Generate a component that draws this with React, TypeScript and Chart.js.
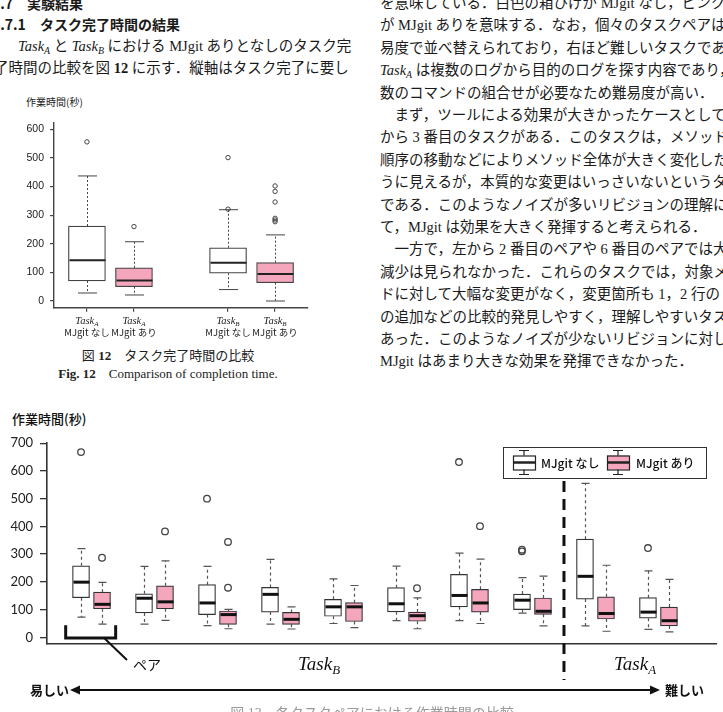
import React, { useEffect, useRef } from "react";
import { Chart, registerables } from "chart.js";
Chart.register(...registerables);

const SERIF = '"Liberation Serif", "DejaVu Serif", "Noto Sans CJK JP", serif';
const GOTHIC = '"Noto Sans CJK JP", "Noto Sans", sans-serif';
const PINK = "rgb(244,167,188)";
const WHITE = "#ffffff";

// ---------- Fig. 12 : overall comparison ----------
const fig12Tasks = ["A", "A", "B", "B"];
const fig12Tools = ["MJgit なし", "MJgit あり", "MJgit なし", "MJgit あり"];
const fig12Slots = [0, 1, 3, 4];
const fig12Min = [28, 21, 40, 0];
const fig12Q1 = [70, 50, 97, 64];
const fig12Median = [142, 72, 134, 94];
const fig12Q3 = [262, 116, 186, 134];
const fig12Max = [437, 207, 319, 231];
const fig12Outliers = [[556], [260], [501, 321], [402, 383, 346, 289, 283, 277]];
const fig12YTicks = [0, 100, 200, 300, 400, 500, 600];

// ---------- Fig. 13 : per task pair ----------
const fig13Tools = [
  "MJgit なし", "MJgit あり", "MJgit なし", "MJgit あり", "MJgit なし", "MJgit あり",
  "MJgit なし", "MJgit あり", "MJgit なし", "MJgit あり", "MJgit なし", "MJgit あり",
  "MJgit なし", "MJgit あり", "MJgit なし", "MJgit あり", "MJgit なし", "MJgit あり",
  "MJgit なし", "MJgit あり",
];
const fig13Slots = [0, 1, 3, 4, 6, 7, 9, 10, 12, 13, 15, 16, 18, 19, 21, 22, 24, 25, 27, 28];
const fig13Min = [73, 48, 48, 61, 42, 31, 48, 30, 50, 35, 60, 31, 60, 50, 87, 41, 41, 22, 29, 20];
const fig13Q1 = [143, 103, 88, 103, 82, 47, 91, 47, 76, 57, 92, 58, 110, 91, 100, 83, 138, 66, 69, 41];
const fig13Median = [199, 119, 141, 128, 124, 82, 155, 65, 110, 110, 121, 78, 151, 124, 134, 94, 220, 86, 91, 60];
const fig13Q3 = [258, 163, 157, 186, 190, 95, 180, 90, 137, 125, 179, 91, 227, 173, 156, 142, 354, 146, 143, 109];
const fig13Max = [320, 198, 256, 276, 256, 101, 281, 110, 211, 187, 257, 142, 304, 282, 215, 221, 555, 260, 240, 209];
const fig13Outliers = [
  [668], [287], [], [382], [500], [344, 179], [], [], [], [],
  [], [177], [632], [401], [316, 310], [], [], [], [322], [],
];
const fig13YTicks = [0, 100, 200, 300, 400, 500, 600, 700];
const fig13Separator = 23; // empty slot between TaskB and TaskA
const legendItems = ["MJgit なし", "MJgit あり"];

const colorOf = (tool: string) => (tool.indexOf("あり") >= 0 ? PINK : WHITE);

type BoxSpec = {
  slots: number[]; min: number[]; q1: number[]; med: number[]; q3: number[]; max: number[];
  capW: number; dash: number[]; wColor: string; wWidth: number; mWidth: number; mColor: string; boxW: number;
};

function boxPlugin(id: string, s: BoxSpec) {
  return {
    id,
    beforeDatasetsDraw(chart: any) {
      const { ctx } = chart;
      const x = chart.scales.x, y = chart.scales.y;
      ctx.save();
      ctx.strokeStyle = s.wColor;
      ctx.lineWidth = s.wWidth;
      s.slots.forEach((slot, i) => {
        const cx = Math.round(x.getPixelForValue(slot)) + 0.5;
        const yMax = y.getPixelForValue(s.max[i]);
        const yQ3 = y.getPixelForValue(s.q3[i]);
        const yMin = y.getPixelForValue(s.min[i]);
        const yQ1 = y.getPixelForValue(s.q1[i]);
        ctx.setLineDash(s.dash);
        ctx.beginPath();
        ctx.moveTo(cx, yQ3); ctx.lineTo(cx, yMax);
        ctx.moveTo(cx, yQ1); ctx.lineTo(cx, yMin);
        ctx.stroke();
        ctx.setLineDash([]);
        ctx.beginPath();
        ctx.moveTo(cx - s.capW / 2, yMax); ctx.lineTo(cx + s.capW / 2, yMax);
        ctx.moveTo(cx - s.capW / 2, yMin); ctx.lineTo(cx + s.capW / 2, yMin);
        ctx.stroke();
      });
      ctx.restore();
    },
    afterDatasetsDraw(chart: any) {
      const { ctx } = chart;
      const x = chart.scales.x, y = chart.scales.y;
      ctx.save();
      ctx.strokeStyle = s.mColor;
      ctx.lineWidth = s.mWidth;
      s.slots.forEach((slot, i) => {
        const cx = Math.round(x.getPixelForValue(slot)) + 0.5;
        const ym = y.getPixelForValue(s.med[i]);
        ctx.beginPath();
        ctx.moveTo(cx - s.boxW / 2, ym);
        ctx.lineTo(cx + s.boxW / 2, ym);
        ctx.stroke();
      });
      ctx.restore();
    },
  };
}

function outlierPoints(slots: number[], outs: number[][]) {
  const pts: { x: number; y: number }[] = [];
  slots.forEach((s, i) => outs[i].forEach((v) => pts.push({ x: s, y: v })));
  return pts;
}

// ---------- Fig. 12 chart ----------
const F12_TOP = 95;
const F12_H = 250;

function Fig12() {
  const ref = useRef<HTMLCanvasElement>(null);
  useEffect(() => {
    const labelPlugin = {
      id: "f12labels",
      afterDraw(chart: any) {
        const { ctx } = chart;
        const x = chart.scales.x;
        ctx.save();
        ctx.fillStyle = "#222";
        ctx.textBaseline = "middle";
        fig12Slots.forEach((slot, i) => {
          const cx = x.getPixelForValue(slot);
          ctx.font = `italic 10.5px ${SERIF}`;
          const w1 = ctx.measureText("Task").width;
          ctx.font = `italic 7px ${SERIF}`;
          const w2 = ctx.measureText(fig12Tasks[i]).width;
          const x0 = cx - (w1 + w2) / 2;
          ctx.textAlign = "left";
          ctx.font = `italic 10.5px ${SERIF}`;
          ctx.fillText("Task", x0, 226);
          ctx.font = `italic 7px ${SERIF}`;
          ctx.fillText(fig12Tasks[i], x0 + w1, 229);
          ctx.font = `9.5px ${GOTHIC}`;
          ctx.textAlign = "center";
          ctx.fillText(fig12Tools[i], cx, 237.5);
        });
        ctx.restore();
      },
    };
    const chart = new Chart(ref.current!, {
      type: "bar",
      data: {
        datasets: [
          {
            type: "bar",
            data: fig12Slots.map((s, i) => ({ x: s, y: [fig12Q1[i], fig12Q3[i]] })) as any,
            backgroundColor: fig12Tools.map(colorOf),
            borderColor: "#444",
            borderWidth: 1.2,
            borderSkipped: false,
            barThickness: 37,
            order: 2,
          } as any,
          {
            type: "scatter",
            data: outlierPoints(fig12Slots, fig12Outliers),
            pointRadius: 2.2,
            pointBackgroundColor: "rgba(0,0,0,0)",
            pointBorderColor: "#444",
            pointBorderWidth: 1,
            order: 1,
          } as any,
        ],
      },
      options: {
        animation: false,
        responsive: false,
        layout: { padding: { top: 28, right: 52, left: 0, bottom: 0 } },
        plugins: { legend: { display: false }, tooltip: { enabled: false } },
        scales: {
          x: {
            type: "linear",
            min: -0.7,
            max: 4.7,
            offset: false,
            afterBuildTicks: (s: any) => { s.ticks = fig12Slots.map((v) => ({ value: v })); },
            afterFit: (s: any) => { s.height = F12_H - 212.7; },
            ticks: { display: false },
            grid: { display: true, offset: false, drawOnChartArea: false, drawTicks: true, tickLength: 4, color: "#444", lineWidth: 1.2 },
            border: { display: true, color: "#444", width: 1.4 },
          },
          y: {
            type: "linear",
            min: -23.4,
            max: 622,
            afterBuildTicks: (s: any) => { s.ticks = fig12YTicks.map((v) => ({ value: v })); },
            afterFit: (s: any) => { s.width = 54; },
            ticks: { padding: 6, color: "#222", font: { family: '"Liberation Sans", Arial, sans-serif', size: 10.5 } },
            grid: { display: true, drawOnChartArea: false, drawTicks: true, tickLength: 4, color: "#444", lineWidth: 1.2 },
            border: { display: true, color: "#444", width: 1.4 },
          },
        },
      } as any,
      plugins: [
        boxPlugin("f12box", {
          slots: fig12Slots, min: fig12Min, q1: fig12Q1, med: fig12Median, q3: fig12Q3, max: fig12Max,
          capW: 19, dash: [2, 2], wColor: "#444", wWidth: 1, mWidth: 2, mColor: "#222", boxW: 36,
        }),
        labelPlugin,
      ],
    });
    return () => chart.destroy();
  }, []);
  return (
    <canvas
      ref={ref}
      width={360}
      height={F12_H}
      style={{ position: "absolute", left: 0, top: F12_TOP, width: 360, height: F12_H }}
    />
  );
}

// ---------- Fig. 13 chart ----------
const F13_TOP = 400;
const F13_H = 312;

function Fig13() {
  const ref = useRef<HTMLCanvasElement>(null);
  useEffect(() => {
    const annot = {
      id: "f13annot",
      afterDraw(chart: any) {
        const { ctx } = chart;
        const x = chart.scales.x, y = chart.scales.y;
        const T = F13_TOP;
        ctx.save();
        // separator between TaskB and TaskA
        const sx = x.getPixelForValue(fig13Separator);
        ctx.strokeStyle = "#111";
        ctx.lineWidth = 3;
        ctx.setLineDash([11, 7]);
        ctx.beginPath();
        ctx.moveTo(sx, 481 - T);
        ctx.lineTo(sx, 680 - T);
        ctx.stroke();
        ctx.setLineDash([]);
        // pair bracket
        const bx1 = x.getPixelForValue(-0.73), bx2 = x.getPixelForValue(1.65);
        const byT = y.getPixelForValue(44), byB = y.getPixelForValue(-2.5);
        ctx.lineWidth = 3;
        ctx.lineJoin = "miter";
        ctx.beginPath();
        ctx.moveTo(bx1, byT); ctx.lineTo(bx1, byB); ctx.lineTo(bx2, byB); ctx.lineTo(bx2, byT);
        ctx.stroke();
        // leader
        ctx.lineWidth = 2;
        ctx.beginPath();
        ctx.moveTo(x.getPixelForValue(1.1), byB);
        ctx.lineTo(127, 660 - T);
        ctx.stroke();
        // difficulty arrow
        const ay = 690 - T, ax1 = 70, ax2 = 660;
        ctx.lineWidth = 2;
        ctx.beginPath();
        ctx.moveTo(ax1 + 6, ay); ctx.lineTo(ax2 - 6, ay);
        ctx.stroke();
        ctx.fillStyle = "#111";
        ctx.beginPath();
        ctx.moveTo(ax1, ay); ctx.lineTo(ax1 + 10, ay - 4.5); ctx.lineTo(ax1 + 10, ay + 4.5); ctx.closePath();
        ctx.moveTo(ax2, ay); ctx.lineTo(ax2 - 10, ay - 4.5); ctx.lineTo(ax2 - 10, ay + 4.5); ctx.closePath();
        ctx.fill();
        // legend
        const lx = 503, ly = 447 - T, lw = 203, lh = 31;
        ctx.lineWidth = 1;
        ctx.strokeStyle = "#333";
        ctx.strokeRect(lx + 0.5, ly + 0.5, lw, lh);
        const iconX = [513, 607];
        const textX = [541, 636];
        legendItems.forEach((lab, i) => {
          const ix = iconX[i], cy = ly + lh / 2;
          ctx.strokeStyle = "#222";
          ctx.lineWidth = 1.2;
          ctx.beginPath();
          ctx.moveTo(ix + 11, cy - 12); ctx.lineTo(ix + 11, cy + 12);
          ctx.moveTo(ix + 6, cy - 12); ctx.lineTo(ix + 16, cy - 12);
          ctx.moveTo(ix + 6, cy + 12); ctx.lineTo(ix + 16, cy + 12);
          ctx.stroke();
          ctx.fillStyle = colorOf(lab);
          ctx.fillRect(ix, cy - 7, 22, 14);
          ctx.strokeRect(ix + 0.5, cy - 7 + 0.5, 22, 14);
          ctx.lineWidth = 2.5;
          ctx.beginPath();
          ctx.moveTo(ix, cy); ctx.lineTo(ix + 22, cy);
          ctx.stroke();
          ctx.fillStyle = "#111";
          ctx.font = `500 12px ${GOTHIC}`;
          ctx.textAlign = "left";
          ctx.textBaseline = "middle";
          ctx.fillText(lab, textX[i], cy + 0.5);
        });
        ctx.restore();
      },
    };
    const chart = new Chart(ref.current!, {
      type: "bar",
      data: {
        datasets: [
          {
            type: "bar",
            data: fig13Slots.map((s, i) => ({ x: s, y: [fig13Q1[i], fig13Q3[i]] })) as any,
            backgroundColor: fig13Tools.map(colorOf),
            borderColor: "#333",
            borderWidth: 1.2,
            borderSkipped: false,
            barThickness: 17,
            order: 2,
          } as any,
          {
            type: "scatter",
            data: outlierPoints(fig13Slots, fig13Outliers),
            pointRadius: 3.3,
            pointBackgroundColor: "rgba(0,0,0,0)",
            pointBorderColor: "#444",
            pointBorderWidth: 1.3,
            order: 1,
          } as any,
        ],
      },
      options: {
        animation: false,
        responsive: false,
        layout: { padding: { top: 43.2, right: 7, left: 0, bottom: 0 } },
        plugins: { legend: { display: false }, tooltip: { enabled: false } },
        scales: {
          x: {
            type: "linear",
            min: -1.62,
            max: 30.24,
            offset: false,
            afterFit: (s: any) => { s.height = 68; },
            ticks: { display: false },
            grid: { display: false, offset: false },
            border: { display: true, color: "#333", width: 1.6 },
          },
          y: {
            type: "linear",
            min: -24,
            max: 700,
            afterBuildTicks: (s: any) => { s.ticks = fig13YTicks.map((v) => ({ value: v })); },
            afterFit: (s: any) => { s.width = 47; },
            ticks: { padding: 7, color: "#222", font: { family: 'Lato, "Open Sans", sans-serif', size: 13 } },
            grid: { display: true, drawOnChartArea: false, drawTicks: true, tickLength: 7, color: "#333", lineWidth: 1.3 },
            border: { display: true, color: "#333", width: 1.6 },
          },
        },
      } as any,
      plugins: [
        boxPlugin("f13box", {
          slots: fig13Slots, min: fig13Min, q1: fig13Q1, med: fig13Median, q3: fig13Q3, max: fig13Max,
          capW: 8, dash: [3, 3], wColor: "#555", wWidth: 1.2, mWidth: 3, mColor: "#111", boxW: 16,
        }),
        annot,
      ],
    });
    return () => chart.destroy();
  }, []);
  return (
    <canvas
      ref={ref}
      width={723}
      height={F13_H}
      style={{ position: "absolute", left: 0, top: F13_TOP, width: 723, height: F13_H }}
    />
  );
}

// ---------- text helpers ----------
const Task = ({ s }: { s: string }) => (
  <span style={{ fontFamily: SERIF, fontStyle: "italic" }}>
    Task<span style={{ fontSize: "0.68em", position: "relative", top: "0.3em" }}>{s}</span>
  </span>
);

const Line = ({ x, y, children, size = 14.5, style = {} }: any) => (
  <div
    style={{
      position: "absolute", left: x, top: y - 11, height: 22, lineHeight: "22px",
      fontSize: size, whiteSpace: "nowrap", color: "#1a1a1a", fontFamily: SERIF, ...style,
    }}
  >
    {children}
  </div>
);

const rightText: any[] = [
  <>を意味している．白色の箱ひげが MJgit なし，ピンク</>,
  <>が MJgit ありを意味する．なお，個々のタスクペアは</>,
  <>易度で並べ替えられており，右ほど難しいタスクである</>,
  <><Task s="A" /> は複数のログから目的のログを探す内容であり，</>,
  <>数のコマンドの組合せが必要なため難易度が高い．</>,
  <>　まず，ツールによる効果が大きかったケースとして，</>,
  <>から 3 番目のタスクがある．このタスクは，メソッド宣</>,
  <>順序の移動などによりメソッド全体が大きく変化した</>,
  <>うに見えるが，本質的な変更はいっさいないというタス</>,
  <>である．このようなノイズが多いリビジョンの理解に対</>,
  <>て，MJgit は効果を大きく発揮すると考えられる．</>,
  <>　一方で，左から 2 番目のペアや 6 番目のペアでは大き</>,
  <>減少は見られなかった．これらのタスクでは，対象メソ</>,
  <>ドに対して大幅な変更がなく，変更箇所も 1，2 行の if</>,
  <>の追加などの比較的発見しやすく，理解しやすいタスク</>,
  <>あった．このようなノイズが少ないリビジョンに対して</>,
  <>MJgit はあまり大きな効果を発揮できなかった．</>,
];

export default function App() {
  return (
    <div
      style={{
        position: "absolute", left: 0, top: 0, width: 723, height: 712,
        overflow: "hidden", background: "#fff",
      }}
    >
      {/* left column */}
      <Line x={-8} y={3} size={14} style={{ fontFamily: GOTHIC, fontWeight: 700 }}>6.7　実験結果</Line>
      <Line x={-8} y={24} size={14} style={{ fontFamily: GOTHIC, fontWeight: 700 }}>6.7.1　タスク完了時間の結果</Line>
      <Line x={18} y={46}><Task s="A" /> と <Task s="B" /> における MJgit ありとなしのタスク完</Line>
      <Line x={-6} y={68}>了時間の比較を図 <b>12</b> に示す．縦軸はタスク完了に要し</Line>

      {/* right column */}
      {rightText.map((t, i) => (
        <Line key={i} x={380} y={3 + 22.4 * i}>{t}</Line>
      ))}

      {/* Fig 12 */}
      <div style={{ position: "absolute", left: 26, top: 95, fontSize: 10, lineHeight: "14px", fontFamily: GOTHIC, color: "#222", whiteSpace: "nowrap" }}>
        作業時間(秒)
      </div>
      <Fig12 />
      <div style={{ position: "absolute", left: 0, width: 336, top: 346, textAlign: "center", fontSize: 13, lineHeight: "20px", fontFamily: SERIF, color: "#222", whiteSpace: "nowrap" }}>
        図 <b>12</b>　タスク完了時間の比較
      </div>
      <div style={{ position: "absolute", left: 0, width: 336, top: 364, textAlign: "center", fontSize: 13, lineHeight: "20px", fontFamily: SERIF, color: "#222", whiteSpace: "nowrap" }}>
        <b>Fig. 12</b>　Comparison of completion time.
      </div>

      {/* Fig 13 */}
      <div style={{ position: "absolute", left: 12, top: 410, fontSize: 13, lineHeight: "18px", fontFamily: GOTHIC, fontWeight: 500, color: "#111", whiteSpace: "nowrap" }}>
        作業時間(秒)
      </div>
      <Fig13 />
      <div style={{ position: "absolute", left: 133, top: 654, fontSize: 14, lineHeight: "20px", fontFamily: GOTHIC, color: "#111" }}>ペア</div>
      <div style={{ position: "absolute", left: 298, top: 652, fontSize: 19, lineHeight: "24px", color: "#111" }}><Task s="B" /></div>
      <div style={{ position: "absolute", left: 614, top: 652, fontSize: 19, lineHeight: "24px", color: "#111" }}><Task s="A" /></div>
      <div style={{ position: "absolute", left: 30, top: 680, fontSize: 13, lineHeight: "20px", fontFamily: GOTHIC, fontWeight: 700, color: "#111" }}>易しい</div>
      <div style={{ position: "absolute", left: 665, top: 680, fontSize: 13, lineHeight: "20px", fontFamily: GOTHIC, fontWeight: 700, color: "#111" }}>難しい</div>
      <div style={{ position: "absolute", left: 0, width: 744, top: 704, textAlign: "center", fontSize: 14, lineHeight: "20px", fontFamily: SERIF, color: "#999", whiteSpace: "nowrap" }}>
        図 13　各タスクペアにおける作業時間の比較
      </div>
    </div>
  );
}
